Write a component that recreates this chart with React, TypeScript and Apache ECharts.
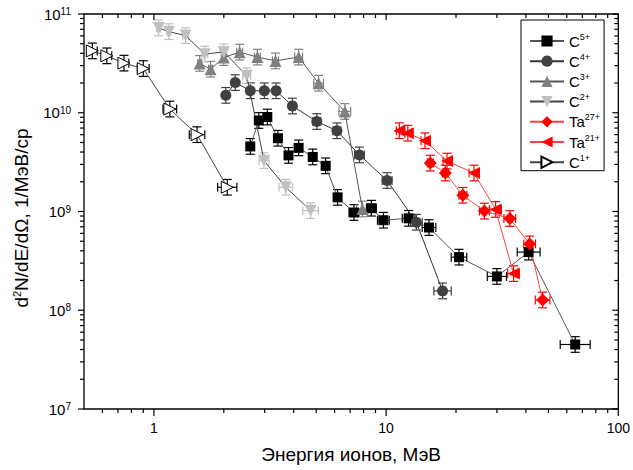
import React, { useEffect, useRef } from 'react';
import * as echarts from 'echarts';

const FONT = '"Liberation Sans", Arial, Helvetica, sans-serif';

// axis ranges and tick labels
const X_MIN = 0.5;
const X_MAX = 100;
const Y_MIN = 1e7;
const Y_MAX = 1e11;
const xTickLabels = [1, 10, 100];
const yTickExponents = [7, 8, 9, 10, 11];

const seriesNames = ['C5+', 'C4+', 'C3+', 'C2+', 'Ta27+', 'Ta21+', 'C1+'];

// relative error of the yield (symmetric in log scale)
const yieldRelError = 0.2;

// C5+
const c5Energy = [2.6, 2.83, 3.08, 3.42, 3.8, 4.2, 4.83, 5.49, 6.18, 7.27, 8.64, 9.73, 12.5, 15.3, 20.6, 30.0, 41.1, 65.2];
const c5Yield = [4.56e9, 8.35e9, 9.05e9, 5.52e9, 3.7e9, 4.41e9, 3.57e9, 2.9e9, 1.39e9, 9.77e8, 1.08e9, 8.16e8, 8.53e8, 6.88e8, 3.45e8, 2.2e8, 3.88e8, 4.5e7];
const c5EnergyErr = [0.02, 0.02, 0.02, 0.03, 0.03, 0.03, 0.03, 0.04, 0.04, 0.05, 0.05, 0.06, 0.065, 0.07, 0.08, 0.1, 0.12, 0.16];

// C4+
const c4Energy = [2.04, 2.24, 2.6, 2.99, 3.36, 3.95, 5.03, 6.14, 7.68, 10.1, 13.5, 17.5];
const c4Yield = [1.5e10, 2.02e10, 1.67e10, 1.67e10, 1.67e10, 1.17e10, 8.15e9, 6.57e9, 3.74e9, 2.06e9, 7.78e8, 1.57e8];
const c4EnergyErr = [0.02, 0.02, 0.02, 0.02, 0.03, 0.03, 0.04, 0.04, 0.05, 0.05, 0.06, 0.09];

// C3+
const c3Energy = [1.575, 1.754, 2.0, 2.34, 2.79, 3.34, 4.2, 5.12, 6.64, 7.91];
const c3Yield = [3.16e10, 2.76e10, 3.62e10, 4.11e10, 3.66e10, 3.35e10, 3.66e10, 1.99e10, 1.03e10, 1.06e9];
const c3EnergyErr = [0.02, 0.02, 0.02, 0.03, 0.03, 0.03, 0.04, 0.05, 0.06, 0.06];

// C2+
const c2Energy = [1.048, 1.16, 1.37, 1.655, 2.0, 2.51, 2.98, 3.7, 4.73];
const c2Yield = [7.22e10, 6.63e10, 6.04e10, 3.92e10, 4.13e10, 2.37e10, 3.27e9, 1.76e9, 1.02e9];
const c2EnergyErr = [0.02, 0.02, 0.03, 0.03, 0.03, 0.04, 0.05, 0.07, 0.08];

// Ta27+
const ta27Energy = [15.5, 18.0, 21.4, 26.5, 34.1, 41.5, 47.2];
const ta27Yield = [3.09e9, 2.45e9, 1.46e9, 1.01e9, 8.49e8, 4.7e8, 1.27e8];
const ta27EnergyErr = [0.03, 0.03, 0.04, 0.05, 0.06, 0.06, 0.075];

// Ta21+
const ta21Energy = [11.4, 12.4, 14.7, 18.3, 23.9, 29.6, 35.4];
const ta21Yield = [6.58e9, 6.21e9, 5.21e9, 3.24e9, 2.45e9, 1.05e9, 2.35e8];
const ta21EnergyErr = [0.03, 0.03, 0.04, 0.04, 0.05, 0.06, 0.06];

// C1+
const c1Energy = [0.543, 0.627, 0.743, 0.9, 1.171, 1.534, 2.07];
const c1Yield = [4.23e10, 3.77e10, 3.18e10, 2.8e10, 1.09e10, 6.0e9, 1.76e9];
const c1EnergyErr = [0.05, 0.05, 0.05, 0.06, 0.07, 0.08, 0.1];

const dataSets: Record<string, { e: number[]; n: number[]; ex: number[] }> = {
  'C5+': { e: c5Energy, n: c5Yield, ex: c5EnergyErr },
  'C4+': { e: c4Energy, n: c4Yield, ex: c4EnergyErr },
  'C3+': { e: c3Energy, n: c3Yield, ex: c3EnergyErr },
  'C2+': { e: c2Energy, n: c2Yield, ex: c2EnergyErr },
  'Ta27+': { e: ta27Energy, n: ta27Yield, ex: ta27EnergyErr },
  'Ta21+': { e: ta21Energy, n: ta21Yield, ex: ta21EnergyErr },
  'C1+': { e: c1Energy, n: c1Yield, ex: c1EnergyErr },
};

const styles: Record<string, any> = {
  'C5+': { symbol: 'rect', size: 10, rotate: 0, fill: '#000000', border: '#000000', bw: 0, line: '#555555', err: '#000000' },
  'C4+': { symbol: 'circle', size: 11, rotate: 0, fill: '#404040', border: '#404040', bw: 0, line: '#333333', err: '#404040' },
  'C3+': { symbol: 'triangle', size: 12, rotate: 0, fill: '#808080', border: '#808080', bw: 0, line: '#555555', err: '#808080' },
  'C2+': { symbol: 'triangle', size: 12, rotate: 180, fill: '#c0c0c0', border: '#c0c0c0', bw: 0, line: '#444444', err: '#c0c0c0' },
  'Ta27+': { symbol: 'diamond', size: 13, rotate: 0, fill: '#ff0000', border: '#ff0000', bw: 0, line: '#ff4040', err: '#ff0000' },
  'Ta21+': { symbol: 'triangle', size: 12, rotate: 90, fill: '#ff0000', border: '#ff0000', bw: 0, line: '#ff4040', err: '#ff0000' },
  'C1+': { symbol: 'triangle', size: 12, rotate: -90, fill: '#ffffff', border: '#000000', bw: 1, line: '#444444', err: '#000000' },
};

const isPow10 = (v: number) => Math.abs(Math.log10(v) - Math.round(Math.log10(v))) < 1e-6;

const makeErrRender = (color: string) => (params: any, api: any) => {
  const x = api.value(0);
  const y = api.value(1);
  const ex = api.value(2);
  const ey = api.value(3);
  const c = api.coord([x, y]);
  const top = api.coord([x, y * (1 + ey)]);
  const bot = api.coord([x, y / (1 + ey)]);
  const left = api.coord([x / (1 + ex), y]);
  const right = api.coord([x * (1 + ex), y]);
  const cap = 4.5;
  const seg = (x1: number, y1: number, x2: number, y2: number) => ({
    type: 'line',
    shape: { x1, y1, x2, y2 },
    style: { stroke: color, lineWidth: 1.2, fill: null },
  });
  return {
    type: 'group',
    children: [
      seg(c[0], top[1], c[0], bot[1]),
      seg(c[0] - cap, top[1], c[0] + cap, top[1]),
      seg(c[0] - cap, bot[1], c[0] + cap, bot[1]),
      seg(left[0], c[1], right[0], c[1]),
      seg(left[0], c[1] - cap, left[0], c[1] + cap),
      seg(right[0], c[1] - cap, right[0], c[1] + cap),
    ],
  };
};

const renderTicks = (params: any, api: any) => {
  const children: any[] = [];
  const p0 = api.coord([X_MIN, Y_MIN]);
  const p1 = api.coord([X_MAX, Y_MAX]);
  const gx0 = p0[0], gy1 = p0[1], gx1 = p1[0], gy0 = p1[1];
  const line = (x1: number, y1: number, x2: number, y2: number) => ({
    type: 'line',
    shape: { x1, y1, x2, y2 },
    style: { stroke: '#000', lineWidth: 1.2, fill: null },
  });
  for (let d = -1; d <= 2; d++) {
    for (let m = 1; m <= 9; m++) {
      const v = m * Math.pow(10, d);
      if (v > X_MAX * 1.0001) continue;
      const major = m === 1;
      if (v < X_MIN * 1.0001) continue;
      const px = api.coord([v, Y_MIN])[0];
      children.push(line(px, gy1, px, gy1 + (major ? 7 : 4)));
      children.push(line(px, gy0, px, gy0 + (major ? 6 : 4)));
    }
  }
  for (let d = 7; d <= 11; d++) {
    for (let m = 1; m <= 9; m++) {
      const v = m * Math.pow(10, d);
      if (v > Y_MAX * 1.0001) continue;
      const major = m === 1;
      const py = api.coord([1, v])[1];
      children.push(line(gx0 - (major ? 6 : 4), py, gx0, py));
      children.push(line(gx1 - (major ? 6 : 4), py, gx1, py));
    }
  }
  return { type: 'group', children };
};

const supRich = {
  b: { fontSize: 15, lineHeight: 18, fontFamily: FONT, color: '#000' },
  s: { fontSize: 9, verticalAlign: 'top', fontFamily: FONT, color: '#000' },
};

function buildOption() {
  const series: any[] = [];
  seriesNames.forEach((name) => {
    const d = dataSets[name];
    const st = styles[name];
    series.push({
      name: name + ' err',
      type: 'custom',
      coordinateSystem: 'cartesian2d',
      renderItem: makeErrRender(st.err),
      encode: { x: 0, y: 1 },
      data: d.e.map((e, i) => [e, d.n[i], d.ex[i], yieldRelError]),
      z: 2,
      silent: true,
    });
  });
  seriesNames.forEach((name) => {
    const d = dataSets[name];
    const st = styles[name];
    series.push({
      name,
      type: 'line',
      data: d.e.map((e, i) => [e, d.n[i]]),
      symbol: st.symbol,
      symbolSize: st.size,
      symbolRotate: st.rotate,
      showSymbol: true,
      itemStyle: { color: st.fill, borderColor: st.border, borderWidth: st.bw },
      lineStyle: { color: st.line, width: 1 },
      emphasis: { disabled: true },
      z: 3,
      silent: true,
    });
  });
  series.push({
    name: '__ticks',
    type: 'custom',
    coordinateSystem: 'cartesian2d',
    renderItem: renderTicks,
    encode: { x: 0, y: 1 },
    data: [[1, 1e9]],
    z: 5,
    silent: true,
  });

  return {
    animation: false,
    backgroundColor: '#ffffff',
    textStyle: { fontFamily: FONT },
    grid: {
      left: 84,
      right: 12,
      top: 14,
      bottom: 61,
      show: true,
      borderColor: '#000',
      borderWidth: 1.3,
      containLabel: false,
    },
    graphic: [
      {
        type: 'text',
        x: 21,
        y: 218,
        rotation: Math.PI / 2,
        silent: true,
        style: {
          text: '{b|d}{s|2}{b|N/dE/dΩ, 1/МэВ/ср}',
          align: 'center',
          verticalAlign: 'middle',
          fill: '#000',
          font: `19px ${FONT}`,
          rich: {
            b: { fontSize: 19, fontFamily: FONT, fill: '#000' },
            s: { fontSize: 11, verticalAlign: 'top', fontFamily: FONT, fill: '#000' },
          },
        },
      },
    ],
    legend: {
      orient: 'vertical',
      left: 521,
      top: 20,
      data: seriesNames,
      itemWidth: 34,
      itemHeight: 14,
      itemGap: 3.7,
      borderColor: '#000',
      borderWidth: 1,
      borderRadius: 0,
      padding: [12, 4, 1, 8],
      selectedMode: false,
      formatter: (name: string) => {
        const m = name.match(/^([A-Za-z]+)(.*)$/);
        return m ? `{b|${m[1]}}{s|${m[2]}}` : name;
      },
      textStyle: { fontFamily: FONT, color: '#000', rich: supRich },
    },
    xAxis: {
      type: 'log',
      logBase: 10,
      min: X_MIN,
      max: X_MAX,
      axisLine: { show: false },
      axisTick: { show: false },
      splitLine: { show: false },
      minorTick: { show: false },
      axisLabel: {
        color: '#000',
        fontSize: 14,
        fontFamily: FONT,
        margin: 12,
        formatter: (v: number) => {
          if (!isPow10(v)) return '';
          const r = xTickLabels.find((t) => Math.abs(t - v) / t < 1e-6);
          return r !== undefined ? String(r) : '';
        },
      },
      name: 'Энергия ионов, МэВ',
      nameLocation: 'middle',
      nameGap: 36,
      nameTextStyle: { color: '#000', fontSize: 19, fontFamily: FONT },
    },
    yAxis: {
      type: 'log',
      logBase: 10,
      min: Y_MIN,
      max: Y_MAX,
      axisLine: { show: false },
      axisTick: { show: false },
      splitLine: { show: false },
      minorTick: { show: false },
      axisLabel: {
        color: '#000',
        margin: 13,
        formatter: (v: number) => {
          const e = Math.round(Math.log10(v));
          if (!isPow10(v) || yTickExponents.indexOf(e) < 0) return '';
          return `{b|10}{s|${e}}`;
        },
        rich: {
          b: { fontSize: 15, fontFamily: FONT, color: '#000' },
          s: { fontSize: 10, verticalAlign: 'top', fontFamily: FONT, color: '#000' },
        },
      },
    },
    series,
  };
}

export default function App() {
  const ref = useRef<HTMLDivElement>(null);
  useEffect(() => {
    document.body.style.margin = '0';
    if (!ref.current) return;
    const chart = echarts.init(ref.current, null, { renderer: 'svg' });
    chart.setOption(buildOption() as any);
    return () => chart.dispose();
  }, []);
  return <div ref={ref} style={{ width: 633, height: 470, background: '#fff' }} />;
}
